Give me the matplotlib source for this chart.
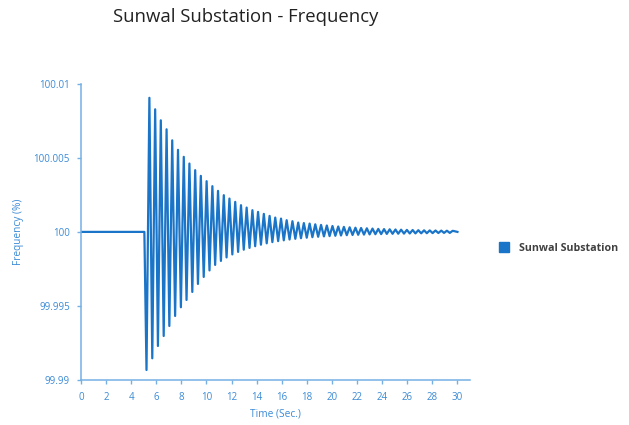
import matplotlib
matplotlib.use('Agg')
import matplotlib.pyplot as plt
from matplotlib.lines import Line2D

plt.rcParams['font.family'] = ['Open Sans', 'DejaVu Sans']

# Data
series_name = 'Sunwal Substation'
title = 'Sunwal Substation - Frequency'
base_value = 100.0
flat_times = [0.0, 5.05]

# times of the swing peaks and troughs (s)
peak_times = [5.45, 5.91, 6.36, 6.82, 7.27, 7.73, 8.19, 8.64, 9.10, 9.55,
              10.01, 10.47, 10.92, 11.38, 11.83, 12.29, 12.75, 13.20, 13.66, 14.11,
              14.57, 15.03, 15.48, 15.94, 16.39, 16.85, 17.31, 17.76, 18.22, 18.67,
              19.13, 19.59, 20.04, 20.50, 20.95, 21.41, 21.87, 22.32, 22.78, 23.23,
              23.69, 24.15, 24.60, 25.06, 25.51, 25.97, 26.43, 26.88, 27.34, 27.79,
              28.25, 28.71, 29.16, 29.62]
trough_times = [5.22, 5.68, 6.13, 6.59, 7.04, 7.50, 7.96, 8.41, 8.87, 9.32,
                9.78, 10.24, 10.69, 11.15, 11.60, 12.06, 12.52, 12.97, 13.43, 13.88,
                14.34, 14.80, 15.25, 15.71, 16.16, 16.62, 17.08, 17.53, 17.99, 18.44,
                18.90, 19.36, 19.81, 20.27, 20.72, 21.18, 21.64, 22.09, 22.55, 23.00,
                23.46, 23.92, 24.37, 24.83, 25.28, 25.74, 26.20, 26.65, 27.11, 27.56,
                28.02, 28.48, 28.93, 29.39]

# frequency (%) at the peaks and troughs
peak_values = [100.009085, 100.008306, 100.007560, 100.006950, 100.006204,
               100.005560, 100.005085, 100.004631, 100.004183, 100.003797,
               100.003437, 100.003098, 100.002780, 100.002488, 100.002258,
               100.002034, 100.001810, 100.001648, 100.001471, 100.001356,
               100.001220, 100.001085, 100.000970, 100.000902, 100.000793,
               100.000725, 100.000631, 100.000597, 100.000563, 100.000515,
               100.000475, 100.000434, 100.000400, 100.000366, 100.000339,
               100.000312, 100.000285, 100.000264, 100.000244, 100.000224,
               100.000203, 100.000190, 100.000176, 100.000163, 100.000149,
               100.000136, 100.000129, 100.000115, 100.000108, 100.000102,
               100.000095, 100.000088, 100.000081, 100.000075]
trough_values = [99.990644, 99.991437, 99.992271, 99.992949, 99.993627,
                 99.994305, 99.994895, 99.995390, 99.995932, 99.996474,
                 99.996949, 99.997390, 99.997763, 99.998034, 99.998271,
                 99.998474, 99.998644, 99.998793, 99.998915, 99.999030,
                 99.999132, 99.999227, 99.999308, 99.999376, 99.999430,
                 99.999485, 99.999532, 99.999573, 99.999607, 99.999641,
                 99.999668, 99.999695, 99.999715, 99.999736, 99.999756,
                 99.999776, 99.999790, 99.999803, 99.999817, 99.999830,
                 99.999844, 99.999851, 99.999864, 99.999871, 99.999878,
                 99.999885, 99.999892, 99.999898, 99.999905, 99.999912,
                 99.999919, 99.999925, 99.999932, 99.999932]
end_time = 30.0

x_ticks = list(range(0, 32, 2))
y_ticks = [99.99, 99.995, 100.0, 100.005, 100.01]
y_tick_labels = ['99.99', '99.995', '100', '100.005', '100.01']

# build the line: flat, then trough/peak alternating, then back to base
times = list(flat_times)
values = [base_value, base_value]
for tt, tv, pt, pv in zip(trough_times, trough_values, peak_times, peak_values):
    times += [tt, pt]
    values += [tv, pv]
times.append(end_time)
values.append(base_value)

line_color = '#1a74c8'
axis_color = '#74b0e4'
label_color = '#3a8ad6'

fig = plt.figure(figsize=(6.29, 4.25), dpi=100)
ax = fig.add_axes([81 / 629, 1 - 379.5 / 425, 389 / 629, 295.2 / 425])

ax.plot(times, values, color=line_color, lw=1.6, solid_joinstyle='round')

ax.set_xlim(0, 31)
ax.set_ylim(99.99, 100.01)
ax.set_xticks(x_ticks)
ax.set_yticks(y_ticks)
ax.set_yticklabels(y_tick_labels)

for s in ['top', 'right']:
    ax.spines[s].set_visible(False)
for s in ['left', 'bottom']:
    ax.spines[s].set_color(axis_color)
    ax.spines[s].set_linewidth(1.1)

ax.tick_params(axis='both', colors=axis_color, labelcolor=label_color,
               labelsize=7, length=3, width=1)
ax.tick_params(axis='y', pad=5)
ax.tick_params(axis='x', pad=6)

ax.set_xlabel('Time (Sec.)', color=label_color, fontsize=7.3, labelpad=4)
ax.set_ylabel('Frequency (%)', color=label_color, fontsize=7.3, labelpad=7)

fig.text(246 / 629, 1 - 17 / 425, title, fontsize=13.3, color='#222222',
         ha='center', va='center')

handle = Line2D([], [], marker='s', ls='', color=line_color, markersize=6.5)
fig.legend(handles=[handle], labels=[series_name], loc='center left',
           bbox_to_anchor=(484 / 629, 1 - 248.7 / 425), frameon=False,
           handletextpad=0.4, prop={'size': 7.7, 'weight': 'bold'},
           labelcolor='#404040')

fig.savefig('out.png', dpi=100)
